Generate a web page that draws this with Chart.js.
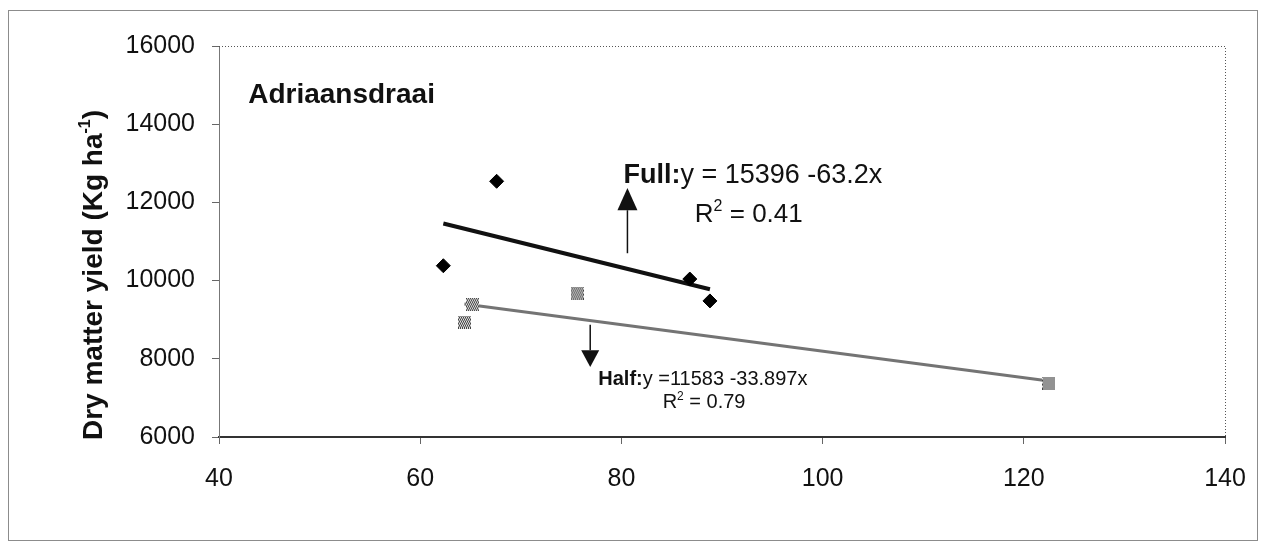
<!DOCTYPE html>
<html lang="en">
<head>
    <meta charset="UTF-8">
    <title>Adriaansdraai - Dry matter yield</title>
    <style>
        body {
            margin: 0;
            padding: 0;
            background-color: #ffffff;
        }
        .wrap {
            position: relative;
            width: 1266px;
            height: 550px;
        }
    </style>
    <script src="https://cdn.jsdelivr.net/npm/chart.js"></script>
</head>
<body>
    <div class="wrap">
        <canvas id="yieldChart"></canvas>
    </div>

    <script>
        // Datos
        var fullX = [62.3, 67.6, 86.8, 88.8];
        var fullY = [10380, 12540, 10040, 9480];
        var halfX = [64.4, 65.2, 75.6, 122.5];
        var halfY = [8940, 9380, 9680, 7380];

        // extremos de las lineas de tendencia
        var fullTrendX = [62.3, 88.8];
        var fullTrendY = [11460, 9780];
        var halfTrendX = [64.4, 122.5];
        var halfTrendY = [9400, 7430];

        var xTicks = [40, 60, 80, 100, 120, 140];
        var yTicks = [6000, 8000, 10000, 12000, 14000, 16000];

        var FONT = '"Liberation Sans", Arial, sans-serif';

        function toPoints(xs, ys) {
            return xs.map(function (x, i) { return { x: x, y: ys[i] }; });
        }

        // marcador cuadrado con trama gris
        var checker = document.createElement('canvas');
        checker.width = 13;
        checker.height = 13;
        var cctx = checker.getContext('2d');
        cctx.fillStyle = '#e0e0e0';
        cctx.fillRect(0, 0, 13, 13);
        cctx.fillStyle = '#444';
        for (var i = 0; i < 13; i += 2) {
            for (var j = 0; j < 13; j += 2) {
                cctx.fillRect(i + ((j / 2) % 2), j, 1, 1);
                cctx.fillRect(i + 1 - ((j / 2) % 2), j + 1, 1, 1);
            }
        }

        function drawText(ctx, parts, x, y) {
            // parts: [text, size, bold, raise]
            parts.forEach(function (p) {
                ctx.font = (p[2] ? 'bold ' : '') + p[1] + 'px ' + FONT;
                ctx.fillText(p[0], x, y - (p[3] || 0));
                x += ctx.measureText(p[0]).width;
            });
        }

        function arrow(ctx, x, yFrom, yBase, yTip, half) {
            ctx.beginPath();
            ctx.moveTo(x, yFrom);
            ctx.lineTo(x, yBase);
            ctx.stroke();
            ctx.beginPath();
            ctx.moveTo(x - half, yBase);
            ctx.lineTo(x + half, yBase);
            ctx.lineTo(x, yTip);
            ctx.closePath();
            ctx.fill();
        }

        var extras = {
            id: 'extras',
            beforeDraw: function (chart) {
                var ctx = chart.ctx;
                ctx.save();
                ctx.fillStyle = '#ffffff';
                ctx.fillRect(0, 0, chart.width, chart.height);
                ctx.strokeStyle = '#8c8c8c';
                ctx.lineWidth = 1;
                ctx.strokeRect(8.5, 10.5, 1249, 530);
                ctx.restore();
            },
            afterDatasetsDraw: function (chart) {
                var ctx = chart.ctx;
                var a = chart.chartArea;
                var sx = chart.scales.x, sy = chart.scales.y;
                ctx.save();

                // borde punteado arriba y derecha
                ctx.strokeStyle = '#555';
                ctx.lineWidth = 1;
                ctx.setLineDash([1, 2]);
                ctx.beginPath();
                ctx.moveTo(a.left, a.top + 0.5);
                ctx.lineTo(a.right + 0.5, a.top + 0.5);
                ctx.lineTo(a.right + 0.5, a.bottom);
                ctx.stroke();
                ctx.setLineDash([]);

                ctx.fillStyle = '#111';
                ctx.textBaseline = 'alphabetic';

                // titulo dentro del grafico
                drawText(ctx, [['Adriaansdraai', 28, true]], sx.getPixelForValue(42.9), sy.getPixelForValue(14540));

                // ecuaciones
                drawText(ctx, [['Full:', 27, true], ['y = 15396 -63.2x', 27, false]],
                    sx.getPixelForValue(80.2), sy.getPixelForValue(12500));
                drawText(ctx, [['R', 26, false], ['2', 16, false, 11], [' = 0.41', 26, false]],
                    sx.getPixelForValue(87.3), sy.getPixelForValue(11500));
                drawText(ctx, [['Half:', 20, true], ['y =11583 -33.897x', 20, false]],
                    sx.getPixelForValue(77.7), sy.getPixelForValue(7330));
                drawText(ctx, [['R', 20, false], ['2', 12, false, 8], [' = 0.79', 20, false]],
                    sx.getPixelForValue(84.1), sy.getPixelForValue(6740));

                // flechas
                ctx.strokeStyle = '#111';
                ctx.lineWidth = 1.5;
                arrow(ctx, sx.getPixelForValue(80.6), sy.getPixelForValue(10700),
                    sy.getPixelForValue(11800), sy.getPixelForValue(12370), 10);
                arrow(ctx, sx.getPixelForValue(76.9), sy.getPixelForValue(8870),
                    sy.getPixelForValue(8220), sy.getPixelForValue(7790), 9);

                // titulo del eje y con superindice
                ctx.translate(102, 275);
                ctx.rotate(-Math.PI / 2);
                ctx.font = 'bold 28px ' + FONT;
                var t1 = 'Dry matter yield (Kg ha';
                var w1 = ctx.measureText(t1).width;
                ctx.font = 'bold 16px ' + FONT;
                var w2 = ctx.measureText('-1').width;
                ctx.font = 'bold 28px ' + FONT;
                var w3 = ctx.measureText(')').width;
                var x0 = -(w1 + w2 + w3) / 2;
                drawText(ctx, [[t1, 28, true], ['-1', 16, true, 12], [')', 28, true]], x0, 0);

                ctx.restore();
            }
        };

        var ctx = document.getElementById('yieldChart').getContext('2d');
        var yieldChart = new Chart(ctx, {
            type: 'scatter',
            data: {
                datasets: [
                    {
                        label: 'Full',
                        data: toPoints(fullX, fullY),
                        pointStyle: 'rectRot',
                        pointRadius: 7,
                        backgroundColor: '#000',
                        borderColor: '#000',
                        borderWidth: 1,
                        order: 0
                    },
                    {
                        label: 'Half',
                        data: toPoints(halfX, halfY),
                        pointStyle: checker,
                        order: 1
                    },
                    {
                        label: 'Full trend',
                        data: toPoints(fullTrendX, fullTrendY),
                        showLine: true,
                        borderColor: '#111',
                        borderWidth: 4,
                        pointRadius: 0,
                        order: 2
                    },
                    {
                        label: 'Half trend',
                        data: toPoints(halfTrendX, halfTrendY),
                        showLine: true,
                        borderColor: '#747474',
                        borderWidth: 3,
                        pointRadius: 0,
                        order: 3
                    }
                ]
            },
            options: {
                responsive: true,
                maintainAspectRatio: false,
                animation: false,
                layout: {
                    padding: { top: 46, right: 41, left: 0, bottom: 0 }
                },
                plugins: {
                    legend: { display: false },
                    tooltip: { enabled: false }
                },
                scales: {
                    x: {
                        type: 'linear',
                        min: 40,
                        max: 140,
                        afterFit: function (scale) { scale.height = 113; },
                        afterBuildTicks: function (scale) {
                            scale.ticks = xTicks.map(function (v) { return { value: v }; });
                        },
                        ticks: {
                            color: '#111',
                            padding: 20,
                            maxRotation: 0,
                            font: { family: FONT, size: 25 },
                            callback: function (v) { return String(v); }
                        },
                        grid: {
                            drawOnChartArea: false,
                            tickLength: 7,
                            color: '#666'
                        },
                        border: {
                            color: '#333',
                            width: 2,
                            dash: [2, 1]
                        }
                    },
                    y: {
                        type: 'linear',
                        min: 6000,
                        max: 16000,
                        afterFit: function (scale) { scale.width = 219; },
                        afterBuildTicks: function (scale) {
                            scale.ticks = yTicks.map(function (v) { return { value: v }; });
                        },
                        ticks: {
                            color: '#111',
                            padding: 17,
                            font: { family: FONT, size: 25 },
                            callback: function (v) { return String(v); }
                        },
                        grid: {
                            drawOnChartArea: false,
                            tickLength: 7,
                            color: '#666'
                        },
                        border: {
                            color: '#777',
                            width: 1
                        }
                    }
                }
            },
            plugins: [extras]
        });
    </script>
</body>
</html>
